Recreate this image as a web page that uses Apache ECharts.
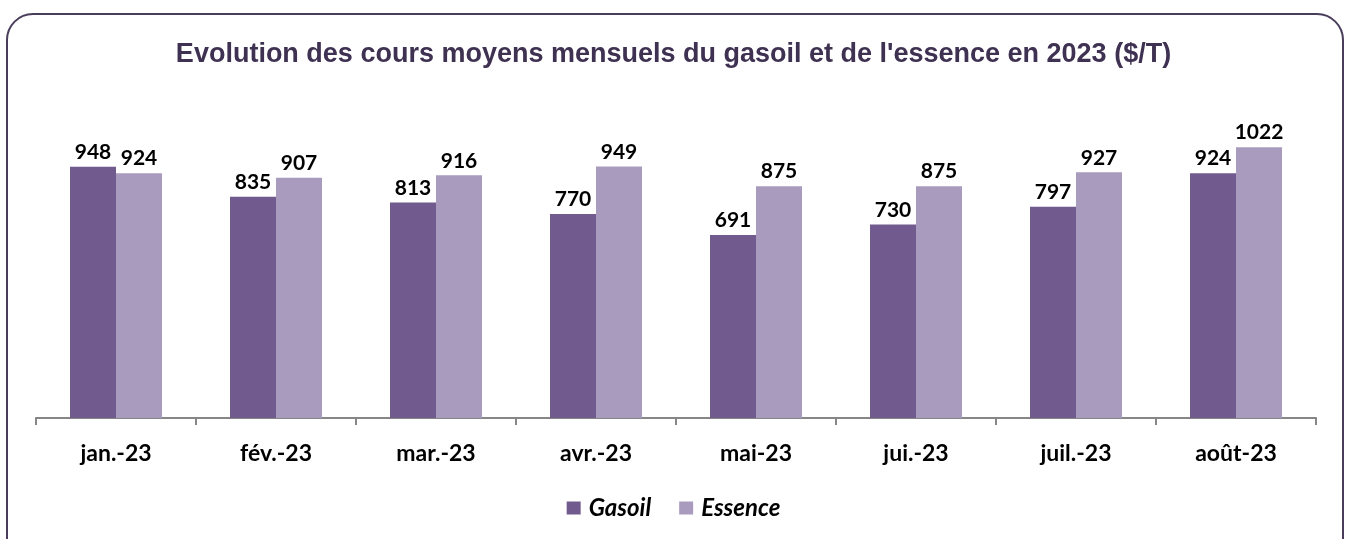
<!DOCTYPE html>
<html>
<head>
<meta charset="utf-8">
<script src="https://cdn.jsdelivr.net/npm/echarts@6/dist/echarts.min.js"></script>
<style>
  html, body { margin: 0; padding: 0; background: #fff; }
  #chart { width: 1347px; height: 539px; }
</style>
</head>
<body>
<div id="chart"></div>
<script>
// données
const months = ["jan.-23", "fév.-23", "mar.-23", "avr.-23", "mai-23", "jui.-23", "juil.-23", "août-23"];
const gasoil = [948, 835, 813, 770, 691, 730, 797, 924];
const essence = [924, 907, 916, 949, 875, 875, 927, 1022];

const labelStyle = {
  show: true,
  position: "top",
  distance: 4,
  fontFamily: "Lato",
  fontWeight: "bold",
  fontSize: 21,
  color: "#000"
};

const option = {
  animation: false,
  backgroundColor: "#fff",
  title: {
    text: "Evolution des cours moyens mensuels du gasoil et de l'essence en 2023 ($/T)",
    left: "center",
    top: 36,
    textStyle: {
      fontFamily: "Liberation Sans",
      fontWeight: "bold",
      fontSize: 27,
      color: "#3f3151"
    }
  },
  // cadre arrondi
  graphic: [{
    type: "rect",
    shape: { x: 7, y: 14, width: 1336, height: 560, r: 26 },
    style: { fill: "none", stroke: "#4a3d5c", lineWidth: 2 },
    silent: true
  }],
  legend: {
    bottom: 14,
    left: "center",
    itemWidth: 14,
    itemHeight: 13,
    itemGap: 28,
    icon: "rect",
    textStyle: {
      fontFamily: "Lato",
      fontStyle: "italic",
      fontWeight: "bold",
      fontSize: 24,
      color: "#000",
      padding: [0, 0, 0, 3]
    }
  },
  grid: { left: 36, right: 31, top: 100, bottom: 121 },
  xAxis: {
    type: "category",
    data: months,
    axisLine: { lineStyle: { color: "#868686", width: 2 } },
    axisTick: { show: true, length: 7, lineStyle: { color: "#868686", width: 2 } },
    axisLabel: {
      margin: 24,
      fontFamily: "Lato",
      fontWeight: "bold",
      fontSize: 23,
      color: "#000"
    }
  },
  yAxis: {
    type: "value",
    min: 0,
    max: 1200,
    show: false,
    splitLine: { show: false }
  },
  color: ["#715a8e", "#a99bbd"],
  series: [
    {
      name: "Gasoil",
      type: "bar",
      data: gasoil,
      barWidth: 46,
      barGap: "0%",
      label: labelStyle
    },
    {
      name: "Essence",
      type: "bar",
      data: essence,
      barWidth: 46,
      barGap: "0%",
      label: labelStyle
    }
  ]
};

const chart = echarts.init(document.getElementById("chart"));
chart.setOption(option);
</script>
</body>
</html>
